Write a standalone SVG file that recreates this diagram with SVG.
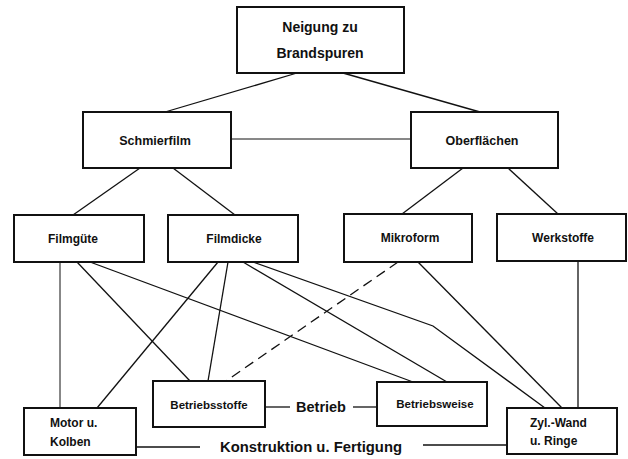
<svg xmlns="http://www.w3.org/2000/svg" width="628" height="459" viewBox="0 0 628 459">
<style>
.box{fill:#fff;stroke:#111;stroke-width:2}
.ln{fill:none;stroke:#111;stroke-width:1.3}
.thin{fill:none;stroke:#111;stroke-width:1}
.dash{fill:none;stroke:#111;stroke-width:1.3;stroke-dasharray:10 6}
text{font-family:"Liberation Sans",Arial,sans-serif;fill:#111}
.b{font-weight:bold}
.c{text-anchor:middle}
</style>
<rect width="628" height="459" fill="#fff"/>
<g id="connectors">
<line class="ln" x1="297" y1="73" x2="165" y2="112"/>
<line class="ln" x1="343" y1="73" x2="480" y2="112"/>
<line class="thin" x1="231" y1="139" x2="411" y2="139"/>
<line class="ln" x1="140" y1="168" x2="73" y2="215"/>
<line class="ln" x1="173" y1="168" x2="235" y2="215"/>
<line class="ln" x1="463" y1="168" x2="402" y2="214"/>
<line class="ln" x1="508" y1="168" x2="558" y2="214"/>
<line class="thin" x1="60" y1="262" x2="60" y2="408"/>
<line class="ln" x1="77" y1="262" x2="190" y2="381"/>
<line class="ln" x1="90" y1="262" x2="413" y2="382"/>
<line class="ln" x1="218" y1="262" x2="97" y2="408"/>
<line class="ln" x1="228" y1="262" x2="208" y2="381"/>
<line class="ln" x1="243" y1="262" x2="447" y2="382"/>
<polyline class="ln" points="253,262 433,326 545,408"/>
<line class="ln" x1="418" y1="262" x2="562" y2="408"/>
<line class="ln" x1="578" y1="261" x2="578" y2="408"/>
<line class="dash" x1="398" y1="262" x2="226" y2="381"/>
<line class="ln" x1="265" y1="407" x2="290" y2="407"/>
<line class="ln" x1="353" y1="407" x2="377" y2="407"/>
<line class="ln" x1="136" y1="447" x2="200" y2="447"/>
<line class="ln" x1="423" y1="445" x2="507" y2="445"/>
<text class="b c" x="321" y="412" font-size="14.5">Betrieb</text>
<text class="b" x="220" y="452" font-size="14" textLength="182" lengthAdjust="spacingAndGlyphs">Konstruktion u. Fertigung</text>
</g>
<g id="n-top">
<rect class="box" x="237" y="7" width="167" height="66"/>
<text class="b c" x="320" y="32" font-size="14">Neigung zu</text>
<text class="b c" x="320" y="58" font-size="14">Brandspuren</text>
</g>
<g id="n-schmierfilm">
<rect class="box" x="83" y="112" width="148" height="56"/>
<text class="c" x="155" y="145" font-size="12.5" font-weight="600">Schmierfilm</text>
</g>
<g id="n-oberflaechen">
<rect class="box" x="411" y="112" width="147" height="56"/>
<text class="c" x="482" y="145" font-size="12.5" font-weight="600">Oberflächen</text>
</g>
<g id="n-filmguete">
<rect class="box" x="14" y="215" width="130" height="47"/>
<text class="b c" x="73" y="243" font-size="12">Filmgüte</text>
</g>
<g id="n-filmdicke">
<rect class="box" x="168" y="215" width="130" height="47"/>
<text class="b c" x="234" y="243" font-size="12">Filmdicke</text>
</g>
<g id="n-mikroform">
<rect class="box" x="344" y="214" width="128" height="48"/>
<text class="b c" x="410" y="242" font-size="12">Mikroform</text>
</g>
<g id="n-werkstoffe">
<rect class="box" x="497" y="214" width="129" height="47"/>
<text class="b c" x="563" y="242" font-size="12">Werkstoffe</text>
</g>
<g id="n-betriebsstoffe">
<rect class="box" x="153" y="381" width="112" height="46"/>
<text class="b c" x="209" y="409" font-size="11.5">Betriebsstoffe</text>
</g>
<g id="n-betriebsweise">
<rect class="box" x="377" y="382" width="110" height="44"/>
<text class="b c" x="435" y="408" font-size="11.5">Betriebsweise</text>
</g>
<g id="n-motor">
<rect class="box" x="24" y="408" width="112" height="47"/>
<text class="b" x="50" y="427" font-size="12">Motor u.</text>
<text class="b" x="50" y="446" font-size="12">Kolben</text>
</g>
<g id="n-zyl">
<rect class="box" x="507" y="408" width="110" height="46"/>
<text class="b" x="530" y="427" font-size="12">Zyl.-Wand</text>
<text class="b" x="530" y="445" font-size="12">u. Ringe</text>
</g>
</svg>
